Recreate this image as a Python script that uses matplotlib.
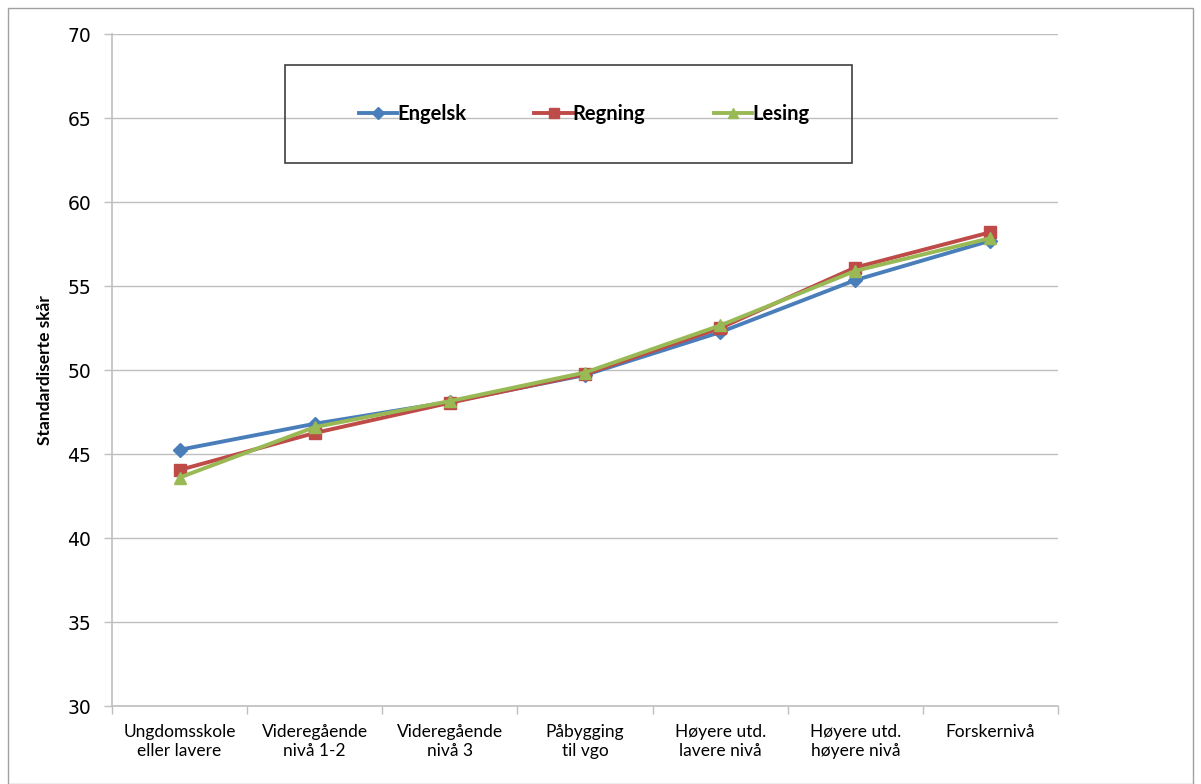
import numpy as np
import matplotlib.pyplot as plt
from matplotlib.patches import Rectangle
from matplotlib.font_manager import FontProperties

# Utdanningsnivå og standardiserte skår per fag
kategorier = ["Ungdomsskole\neller lavere", "Videregående\nnivå 1-2", "Videregående\nnivå 3",
              "Påbygging\ntil vgo", "Høyere utd.\nlavere nivå", "Høyere utd.\nhøyere nivå",
              "Forskernivå"]
engelsk = [45.25, 46.8, 48.1, 49.7, 52.25, 55.35, 57.7]
regning = [44.05, 46.25, 48.05, 49.75, 52.5, 56.1, 58.2]
lesing = [43.6, 46.6, 48.15, 49.85, 52.65, 55.9, 57.85]
y_ticks = [30, 35, 40, 45, 50, 55, 60, 65, 70]

BLAA = "#4A7EBB"
ROED = "#BE4B48"
GROENN = "#98B954"
GRAA = "#BFBFBF"

fig = plt.figure(figsize=(12.01, 7.84), dpi=100)
ax = fig.add_axes([112 / 1201, 78 / 784, 946 / 1201, 672 / 784])

x = np.arange(len(kategorier))
ax.plot(x, engelsk, color=BLAA, lw=2.8, marker="D", ms=7.5, label="Engelsk")
ax.plot(x, regning, color=ROED, lw=2.8, marker="s", ms=8.5, label="Regning")
ax.plot(x, lesing, color=GROENN, lw=2.8, marker="^", ms=9, label="Lesing")

ax.set_xlim(-0.5, len(kategorier) - 0.5)
ax.set_ylim(30, 70)
ax.set_yticks(y_ticks)
ax.yaxis.grid(True, color=GRAA, lw=1)
ax.set_axisbelow(True)

# kategorietiketter mellom tickmerkene
ax.set_xticks(x)
ax.set_xticklabels(kategorier, fontsize=12.5, family="Lato", linespacing=1.25)
ax.set_xticks(np.arange(-0.5, len(kategorier)), minor=True)
ax.tick_params(axis="x", which="major", length=0, pad=13)
ax.tick_params(axis="x", which="minor", length=6, color=GRAA, width=1, direction="out")
ax.tick_params(axis="y", length=6, color=GRAA, width=1, labelsize=13.5, pad=9)
for lab in ax.get_yticklabels():
    lab.set_family("DejaVu Sans")

for side in ["top", "right"]:
    ax.spines[side].set_visible(False)
for side in ["left", "bottom"]:
    ax.spines[side].set_color(GRAA)
    ax.spines[side].set_linewidth(1.2)

fet = FontProperties(family="Lato", weight="bold", size=12.5)
ax.set_ylabel("Standardiserte skår", fontproperties=fet, labelpad=10)

# legende i egen ramme
fig.add_artist(Rectangle((285 / 1201, (784 - 163) / 784), 567 / 1201, 98 / 784,
                         transform=fig.transFigure, fill=False, ec="#404040", lw=1.2))
fig.legend(loc="center", bbox_to_anchor=(584 / 1201, (784 - 114) / 784), ncol=3, frameon=False,
           prop={"family": "Lato", "weight": "bold", "size": 14.5}, handlelength=1.9,
           handletextpad=0.0, columnspacing=3.4, markerscale=0.8)

# ytre ramme rundt diagrammet
fig.add_artist(Rectangle((8 / 1201, 0), 1185 / 1201, 776 / 784, transform=fig.transFigure,
                         fill=False, ec="#A0A0A0", lw=1))

fig.savefig("out.png", dpi=100)
